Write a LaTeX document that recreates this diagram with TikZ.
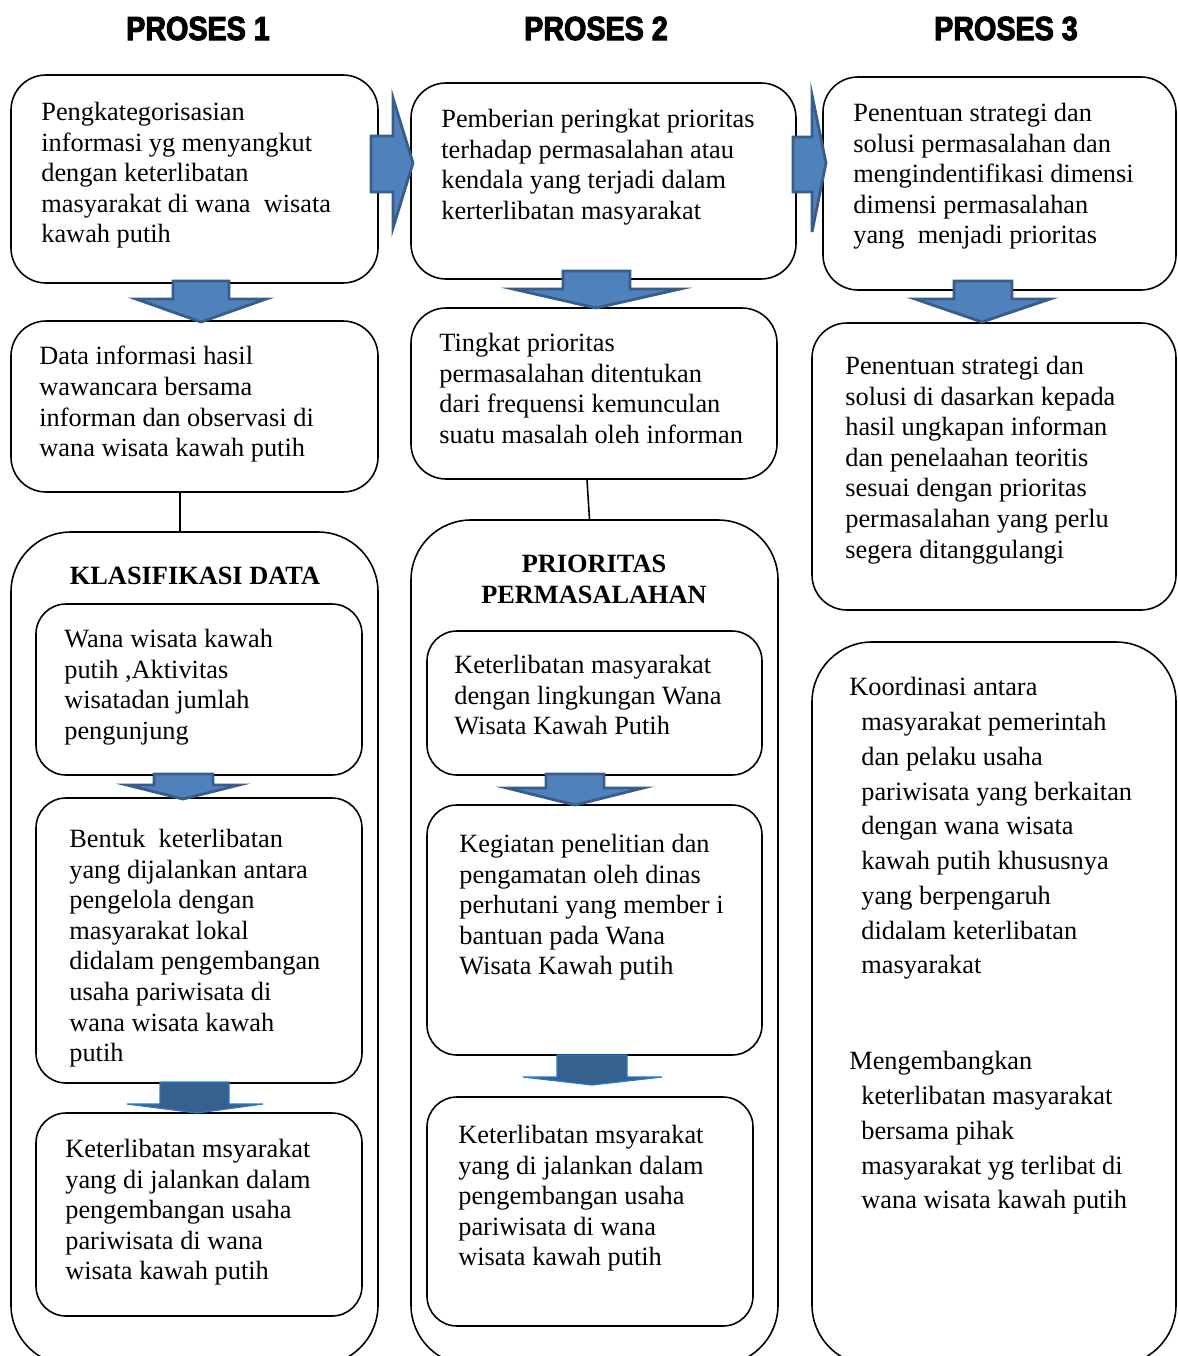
\documentclass[tikz,border=0pt]{standalone}
\usepackage{fontspec}
\setmainfont{Liberation Serif}
\newfontfamily\headfont[FakeStretch=0.86, FakeBold=3, UprightFont={* Bold}]{Liberation Sans}
\usepackage{tikz}
\usetikzlibrary{fit}
\definecolor{arrfill}{HTML}{4F81BD}
\definecolor{arrline}{HTML}{385D8A}
\definecolor{darkfill}{HTML}{36608E}
\definecolor{darkline}{HTML}{2A7AC8}

\begin{document}
\begin{tikzpicture}[
      x=0.02cm, y=-0.02cm,
      box/.style={draw, line width=0.9pt, rounded corners=0.7cm, inner sep=0pt},
      inbox/.style={box, rounded corners=0.6cm},
      bigbox/.style={box, rounded corners=1.2cm},
      txt/.style={anchor=north west, inner sep=0pt, align=left, font=\fontsize{15pt}{17.4pt}\selectfont},
      ttl/.style={anchor=north, inner sep=0pt, align=center, font=\fontsize{15pt}{17.6pt}\selectfont\bfseries},
      head/.style={anchor=base, inner sep=0pt, font=\headfont\fontsize{19pt}{22pt}\selectfont},
      blk/.style={fill=arrfill, draw=arrline, line width=1.6pt},
      blkdark/.style={fill=darkfill, draw=darkline, line width=0.7pt}
    ]
      \useasboundingbox (0,0) rectangle (1177,1356);
      \clip (0,0) rectangle (1177,1356);

      % headers
      \node[head] (h1) at (198,40) {PROSES 1};
      \node[head] (h2) at (596,40) {PROSES 2};
      \node[head] (h3) at (1006,40) {PROSES 3};

      % column 1
      \node[box, fit={(11,75) (378,283)}] (a1) {};
      \node[box, fit={(11,321) (378,492)}] (b1) {};
      \node[bigbox, fit={(11,532) (378,1365)}] (c1) {};
      \node[inbox, fit={(36,604) (362,775)}] (d1) {};
      \node[inbox, fit={(36,798) (362,1083)}] (e1) {};
      \node[inbox, fit={(36,1113) (362,1316)}] (f1) {};
      \draw[line width=0.9pt] ([xshift=-0.29cm]b1.south) -- ([xshift=-0.29cm]c1.north);

      \node[txt] (a1t) at (41,102) {Pengkategorisasian\\informasi yg menyangkut\\dengan keterlibatan\\masyarakat di wana\ \ wisata\\kawah putih};
      \node[txt] (b1t) at (39,346) {Data informasi hasil\\wawancara bersama\\informan dan observasi di\\wana wisata kawah putih};
      \node[ttl, anchor=base] (c1t) at (195,584) {KLASIFIKASI DATA};
      \node[txt] (d1t) at (64,629) {Wana wisata kawah\\putih ,Aktivitas\\wisatadan jumlah\\pengunjung};
      \node[txt] (e1t) at (69,829) {Bentuk\ \ keterlibatan\\yang dijalankan antara\\pengelola dengan\\masyarakat lokal\\didalam pengembangan\\usaha pariwisata di\\wana wisata kawah\\putih};
      \node[txt] (f1t) at (65,1139) {Keterlibatan msyarakat\\yang di jalankan dalam\\pengembangan usaha\\pariwisata di wana\\wisata kawah putih};

      % column 2
      \node[box, fit={(411,83) (796,279)}] (a2) {};
      \node[box, fit={(411,308) (777,479)}] (b2) {};
      \node[bigbox, fit={(411,520) (778,1365)}] (c2) {};
      \node[inbox, fit={(427,631) (762,775)}] (d2) {};
      \node[inbox, fit={(427,805) (762,1055)}] (e2) {};
      \node[inbox, fit={(427,1097) (753,1326)}] (f2) {};
      \draw[line width=0.9pt] ([xshift=-0.14cm]b2.south) -- ([xshift=-0.1cm]c2.north);

      \node[txt] (a2t) at (441,109) {Pemberian peringkat prioritas\\terhadap permasalahan atau\\kendala yang terjadi dalam\\kerterlibatan masyarakat};
      \node[txt] (b2t) at (439,333) {Tingkat prioritas\\permasalahan ditentukan\\dari frequensi kemunculan\\suatu masalah oleh informan};
      \node[ttl] (c2t) at (594,555) {PRIORITAS\\PERMASALAHAN};
      \node[txt] (d2t) at (454,655) {Keterlibatan masyarakat\\dengan lingkungan Wana\\Wisata Kawah Putih};
      \node[txt] (e2t) at (459,834) {Kegiatan penelitian dan\\pengamatan oleh dinas\\perhutani yang member i\\bantuan pada Wana\\Wisata Kawah putih};
      \node[txt] (f2t) at (458,1125) {Keterlibatan msyarakat\\yang di jalankan dalam\\pengembangan usaha\\pariwisata di wana\\wisata kawah putih};

      % column 3
      \node[box, fit={(823,77) (1176,290)}] (a3) {};
      \node[box, fit={(812,323) (1176,610)}] (b3) {};
      \node[bigbox, fit={(812,642) (1176,1365)}] (c3) {};

      \node[txt] (a3t) at (853,103) {Penentuan strategi dan\\solusi permasalahan dan\\mengindentifikasi dimensi\\dimensi permasalahan\\yang\ \ menjadi prioritas};
      \node[txt] (b3t) at (845,356) {Penentuan strategi dan\\solusi di dasarkan kepada\\hasil ungkapan informan\\dan penelaahan teoritis\\sesuai dengan prioritas\\permasalahan yang perlu\\segera ditanggulangi};
      \node[txt, font=\fontsize{15pt}{19.8pt}\selectfont] (c3t) at (849,677) {Koordinasi antara\\\hspace*{0.24cm}masyarakat pemerintah\\\hspace*{0.24cm}dan pelaku usaha\\\hspace*{0.24cm}pariwisata yang berkaitan\\\hspace*{0.24cm}dengan wana wisata\\\hspace*{0.24cm}kawah putih khususnya\\\hspace*{0.24cm}yang berpengaruh\\\hspace*{0.24cm}didalam keterlibatan\\\hspace*{0.24cm}masyarakat};
      \node[txt, font=\fontsize{15pt}{19.8pt}\selectfont] (c3u) at (849,1051) {Mengembangkan\\\hspace*{0.24cm}keterlibatan masyarakat\\\hspace*{0.24cm}bersama pihak\\\hspace*{0.24cm}masyarakat yg terlibat di\\\hspace*{0.24cm}wana wisata kawah putih};

      % block arrows
      \draw[blk] (371,136) -- (393,136) -- (393,98) -- (413,163) -- (393,228) -- (393,192) -- (371,192) -- cycle;
      \draw[blk] (793,137) -- (812,137) -- (812,95) -- (826,163) -- (812,232) -- (812,192) -- (793,192) -- cycle;
      \draw[blk] (173,281) -- (229,281) -- (229,299) -- (266,299) -- (201,322) -- (136,299) -- (173,299) -- cycle;
      \draw[blk] (563,271) -- (630,271) -- (630,289) -- (680,289) -- (596,308) -- (513,289) -- (563,289) -- cycle;
      \draw[blk] (954,281) -- (1012,281) -- (1012,299) -- (1050,299) -- (982,322) -- (915,299) -- (954,299) -- cycle;
      \draw[blk] (154,774) -- (213,774) -- (213,785) -- (239,785) -- (183,799) -- (127,785) -- (154,785) -- cycle;
      \draw[blk] (546,774) -- (604,774) -- (604,788) -- (643,788) -- (575,805) -- (507,788) -- (546,788) -- cycle;
      \draw[blkdark] (160,1082) -- (229,1082) -- (229,1104) -- (263,1104) -- (197,1113) -- (127,1104) -- (160,1104) -- cycle;
      \draw[blkdark] (557,1055) -- (627,1055) -- (627,1077) -- (662,1077) -- (592,1085) -- (523,1077) -- (557,1077) -- cycle;
    \end{tikzpicture}
\end{document}
